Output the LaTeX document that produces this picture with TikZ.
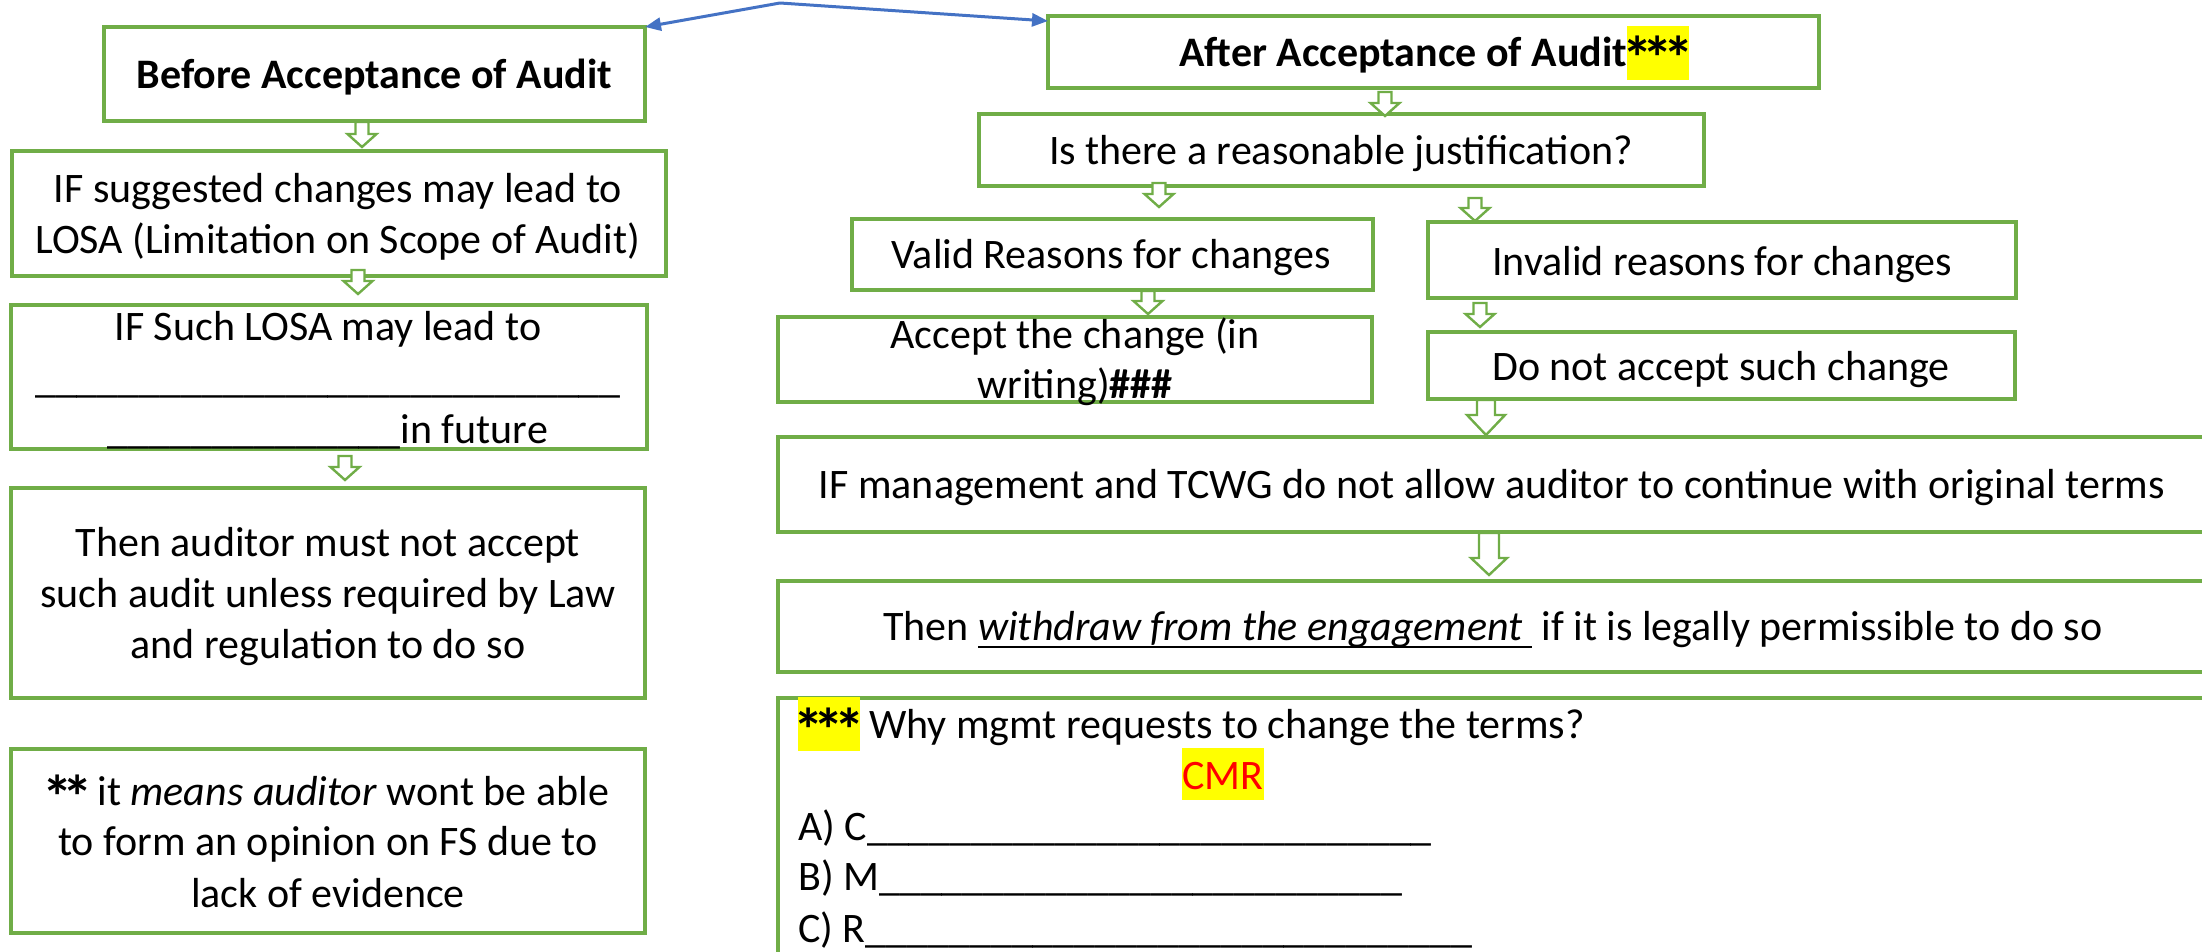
\documentclass[tikz,border=0pt]{standalone}
\usepackage{fontspec}
\usepackage{graphicx}
\setmainfont{Carlito}
\usetikzlibrary{calc,arrows.meta}

\definecolor{boxgreen}{HTML}{70AD47}
\definecolor{linkblue}{HTML}{4472C4}
\definecolor{markyellow}{HTML}{FFFF00}
\definecolor{markred}{HTML}{FF0000}

% yellow text highlight of full line height
\newcommand\hlt[1]{{\setlength\fboxsep{0pt}\colorbox{markyellow}{\rule[-11pt]{0pt}{52pt}#1}}}
% underline that runs through the descenders
\newcommand\ulx[1]{{\setbox0=\hbox{#1}\rlap{\rule[-8.3pt]{\wd0}{2.5pt}}\box0}}
% large, centred asterisk on a fixed advance
\newcommand\astx{\makebox[20.5pt]{\raisebox{-13pt}{\scalebox{1.45}{\bfseries *}}}}

\tikzset{
  panel/.style={draw=boxgreen, line width=3.2pt, inner sep=0pt, outer sep=0pt},
  txt/.style={inner sep=0pt, font=\fontsize{42}{51}\selectfont},
  blockline/.style={draw=boxgreen, line width=2.4pt, line join=miter, fill=white},
  linkarrow/.style={draw=linkblue, line width=3pt, -{Triangle[length=16pt,width=13pt]}},
}

% rectangle node from its corners: name, x1, y1, x2, y2
\newcommand\panel[5]{\node[panel, minimum width={#4-#2}, minimum height={#5-#3}] (#1) at ({(#2+#4)/2},{(#3+#5)/2}) {};}

% hollow block arrow between two panels:
% upper, lower, x, start offset, end gap, shaft half width, head half width, head length
\newcommand\blockarrow[8]{%
  \draw[blockline] let \p1=(#1.south), \p2=(#2.north),
     \n1={\y1-(#4)*1pt}, \n2={\y2+(#5)*1pt}, \n3={\y2+(#5)*1pt+(#8)*1pt} in
     ({(#3-#6)*1pt},\n1) -- ({(#3+#6)*1pt},\n1) -- ({(#3+#6)*1pt},\n3) -- ({(#3+#7)*1pt},\n3)
     -- ({#3*1pt},\n2) -- ({(#3-#7)*1pt},\n3) -- ({(#3-#6)*1pt},\n3) -- cycle;}

\begin{document}
\begin{tikzpicture}[x=1pt, y=-1pt]
\clip (0,0) rectangle (2202,952);

% ---------- left column ----------
\panel{before}{104}{27}{645}{121}
\node[txt, anchor=base] (before-t) at (374.5,89) {\textbf{Before Acceptance of Audit}};

\panel{ifsug}{12}{151}{666}{276}
\node[txt, anchor=base] (ifsug-a) at (338,203) {IF suggested changes may lead to};
\node[txt, anchor=base] (ifsug-b) at (338,253) {LOSA (Limitation on Scope of Audit)};

\panel{ifsuch}{11}{305}{647}{449}
\node[txt, anchor=base] (ifsuch-a) at (328,340) {IF Such LOSA may lead to};
\node[txt, anchor=base] (ifsuch-b) at (328,392) {\_\_\_\_\_\_\_\_\_\_\_\_\_\_\_\_\_\_\_\_\_\_\_\_\_\_\_\_};
\node[txt, anchor=base] (ifsuch-c) at (328,443) {\_\_\_\_\_\_\_\_\_\_\_\_\_\_in future};

\panel{thenaud}{11}{488}{645}{698}
\node[txt, anchor=base] (thenaud-a) at (328,556) {Then auditor must not accept};
\node[txt, anchor=base] (thenaud-b) at (328,607) {such audit unless required by Law};
\node[txt, anchor=base] (thenaud-c) at (328,658) {and regulation to do so};

\panel{means}{11}{749}{645}{933}
\node[txt, anchor=base] (means-a) at (328,805) {\astx\astx{} it \textit{means auditor} wont be able};
\node[txt, anchor=base] (means-b) at (328,855) {to form an opinion on FS due to};
\node[txt, anchor=base] (means-c) at (328,907) {lack of evidence};

% ---------- right column ----------
\panel{after}{1048}{16}{1819}{88}
\node[txt, anchor=base] (after-t) at (1434,67) {\textbf{After Acceptance of Audit\hlt{\astx\astx\astx}}};

\panel{isthere}{979}{114}{1704}{186}
\node[txt, anchor=base] (isthere-t) at (1341,165) {Is there a reasonable justification?};

\panel{valid}{852}{219}{1373}{290}
\node[txt, anchor=base] (valid-t) at (1111,268) {Valid Reasons for changes};

\panel{invalid}{1428}{222}{2016}{298}
\node[txt, anchor=base] (invalid-t) at (1722,275) {Invalid reasons for changes};

\panel{accept}{778}{317}{1372}{402}
\node[txt, anchor=base] (accept-a) at (1075,348) {Accept the change (in};
\node[txt, anchor=base] (accept-b) at (1075,398) {writing)\textbf{\#\#\#}};

\panel{donot}{1428}{332}{2015}{399}
\node[txt, anchor=base] (donot-t) at (1721,380) {Do not accept such change};

\panel{ifmgmt}{778}{437}{2260}{532}
\node[txt, anchor=base] (ifmgmt-t) at (1492,498) {IF management and TCWG do not allow auditor to continue with original terms};

\panel{thenw}{778}{581}{2260}{672}
\node[txt, anchor=base] (thenw-t) at (1493,640) {Then \ulx{\textit{withdraw from the engagement} } if it is legally permissible to do so};

\panel{why}{778}{698}{2260}{1010}
\node[txt, anchor=base west] (why-a) at (798,738) {\hlt{\astx\astx\astx} Why mgmt requests to change the terms?};
\node[txt, anchor=base] (why-cmr) at (1223,789) {\hlt{\color{markred}CMR}};
\node[txt, anchor=base west] (why-c) at (798,840) {A) C\_\_\_\_\_\_\_\_\_\_\_\_\_\_\_\_\_\_\_\_\_\_\_\_\_\_\_};
\node[txt, anchor=base west] (why-m) at (798,890) {B) M\_\_\_\_\_\_\_\_\_\_\_\_\_\_\_\_\_\_\_\_\_\_\_\_\_};
\node[txt, anchor=base west] (why-r) at (798,942) {C) R\_\_\_\_\_\_\_\_\_\_\_\_\_\_\_\_\_\_\_\_\_\_\_\_\_\_\_\_\_};

% ---------- flow arrows ----------
\blockarrow{before}{ifsug}{362}{1}{4}{6.5}{14.5}{13}
\blockarrow{ifsug}{ifsuch}{358}{-6}{11}{6.5}{14.5}{13}
\blockarrow{ifsuch}{thenaud}{345}{7}{8}{6.5}{14.5}{13}
\blockarrow{after}{isthere}{1385}{4}{-2}{6.5}{14.5}{13}
\blockarrow{isthere}{valid}{1159}{-3}{12}{6.5}{14.5}{13}
\blockarrow{isthere}{invalid}{1475}{12}{1}{6.5}{14.5}{13}
\blockarrow{valid}{accept}{1148}{1}{3}{6.5}{14.5}{13}
\blockarrow{invalid}{donot}{1480}{5}{5}{6.5}{14.5}{13}
\blockarrow{donot}{ifmgmt}{1486}{1}{2}{9}{19}{20}
\blockarrow{ifmgmt}{thenw}{1489}{1}{6}{10}{18}{17}

% ---------- split at the top ----------
\coordinate (split) at (780,3);
\draw[linkarrow] (split) -- (before.north east);
\draw[linkarrow] (split) -- ($(after.north west)+(0,5)$);
\end{tikzpicture}
\end{document}
